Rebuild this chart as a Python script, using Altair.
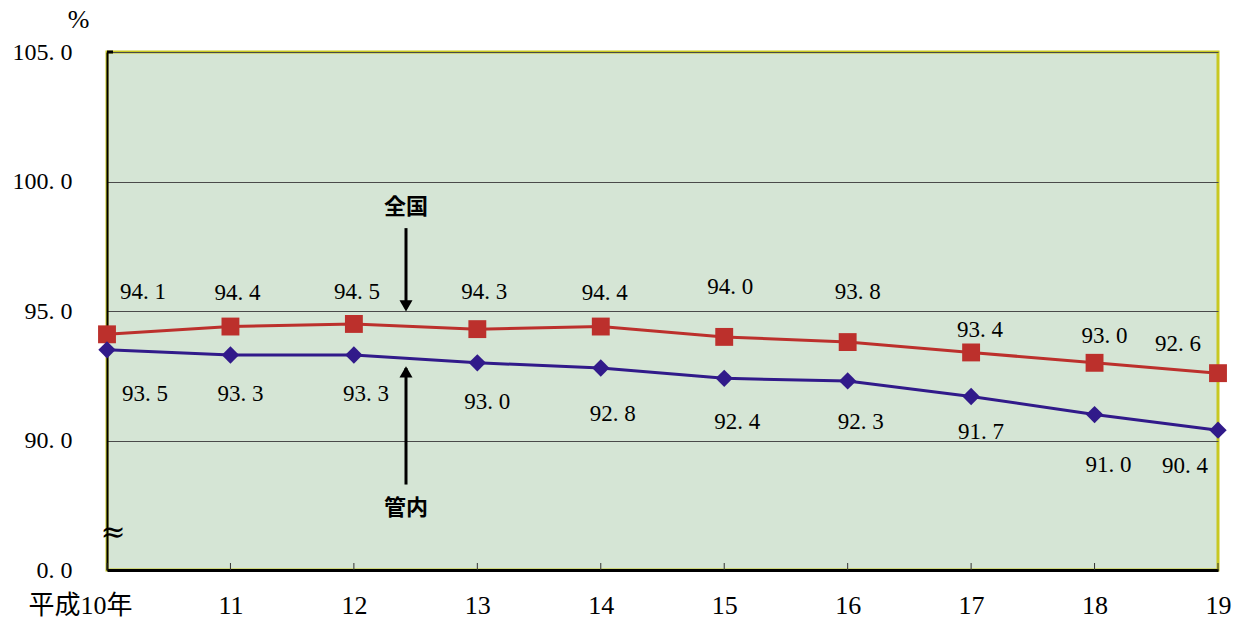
import altair as alt
import pandas as pd

years = ["平成10年", "11", "12", "13", "14", "15", "16", "17", "18", "19"]
zenkoku = [94.1, 94.4, 94.5, 94.3, 94.4, 94.0, 93.8, 93.4, 93.0, 92.6]
kannai = [93.5, 93.3, 93.3, 93.0, 92.8, 92.4, 92.3, 91.7, 91.0, 90.4]

# label placement (pixels, relative to each point)
zen_dx = [36, 7, 3, 7, 4, 6, 10, 9, 10, -40]
zen_dy = [-42, -34, -32, -37, -34, -50, -50, -22, -27, -29]
kan_dx = [38, 10, 12, 10, 12, 13, 13, 10, 14, -33]
kan_dy = [44, 39, 39, 39, 46, 44, 41, 36, 50, 36]

RED = "#BC302C"
BLUE = "#311A8A"
SERIF = "Liberation Serif, Noto Sans CJK JP"
SANS = "Noto Sans CJK JP"
PLOT_H = 518
Y_MIN, Y_MAX = 85, 105

def fmt(v):
    return f"{v:.1f}".replace(".", ". ")

rows = []
for i, y in enumerate(years):
    rows.append(dict(year=y, series="全国", value=zenkoku[i], label=fmt(zenkoku[i]), dx=zen_dx[i], dy=zen_dy[i]))
    rows.append(dict(year=y, series="管内", value=kannai[i], label=fmt(kannai[i]), dx=kan_dx[i], dy=kan_dy[i]))
df = pd.DataFrame(rows)

x_enc = alt.X("year:N", sort=years, scale=alt.Scale(type="point", padding=0),
              axis=alt.Axis(title=None, labelAngle=0, labelFont=SERIF, labelFontSize=26,
                            labelColor="black", labelPadding=22, ticks=False,
                            domainColor="black", domainWidth=3, grid=False,
                            labelOffset={"condition": {"test": "datum.value == '平成10年'", "value": -27}, "value": 0}))
y_scale = alt.Scale(domain=[Y_MIN, Y_MAX], nice=False, zero=False)
y_enc = alt.Y("value:Q", scale=y_scale,
              axis=alt.Axis(values=[85, 90, 95, 100, 105],
                            labelExpr="datum.value == 85 ? '0. 0' : replace(format(datum.value, '.1f'), '.', '. ')",
                            labelFont=SERIF, labelFontSize=24, labelColor="black", labelPadding=35,
                            ticks=False, domainColor="black", domainWidth=2,
                            grid=True, gridColor="#4a4a4a", gridWidth=1,
                            title="%", titleAngle=0, titleFont=SERIF, titleFontSize=26,
                            titleFontWeight="normal", titleX=-29, titleY=-33,
                            titleAlign="center", titleBaseline="middle"))

color = alt.Color("series:N", scale=alt.Scale(domain=["全国", "管内"], range=[RED, BLUE]), legend=None)

base = alt.Chart(df)

lines = base.mark_line(strokeWidth=3).encode(x=x_enc, y=y_enc, color=color, detail="series:N")
pts_z = base.transform_filter("datum.series == '全国'").mark_point(
    shape="square", filled=True, size=320, opacity=1, color=RED).encode(x=x_enc, y=y_enc)
pts_k = base.transform_filter("datum.series == '管内'").mark_point(
    shape="diamond", filled=True, size=300, opacity=1, color=BLUE).encode(x=x_enc, y=y_enc)

px_per_unit = PLOT_H / (Y_MAX - Y_MIN)
labels = base.transform_calculate(
    ly=f"datum.value - datum.dy / {px_per_unit}"
).mark_text(font=SERIF, fontSize=23, color="black", baseline="middle", align="center").encode(
    x=x_enc, y=alt.Y("ly:Q", scale=y_scale), text="label:N",
    xOffset=alt.XOffset("dx:Q", scale=None))

# x-axis inward ticks
ticks = alt.Chart(pd.DataFrame({"year": years})).mark_rule(color="#333", strokeWidth=1).encode(
    x=alt.X("year:N", sort=years), y=alt.value(518), y2=alt.value(511))

# annotations (arrows)
ann_x = 299
ann_text = pd.DataFrame({"t": ["全国", "管内"], "y": [99.0, 87.4]})
ann_txt = alt.Chart(ann_text).mark_text(font=SANS, fontSize=22, fontWeight="bold", color="black").encode(
    x=alt.value(ann_x), y=alt.Y("y:Q", scale=y_scale), text="t:N")
arrows = pd.DataFrame({"y": [98.2, 88.3], "y2": [95.1, 92.8]})
arrow_lines = alt.Chart(arrows).mark_rule(color="black", strokeWidth=3).encode(
    x=alt.value(ann_x), y=alt.Y("y:Q", scale=y_scale), y2="y2:Q")
head_down = alt.Chart(pd.DataFrame({"y": [95.2]})).mark_point(
    shape="triangle-down", filled=True, size=170, color="black", opacity=1).encode(
    x=alt.value(ann_x), y=alt.Y("y:Q", scale=y_scale))
head_up = alt.Chart(pd.DataFrame({"y": [92.65]})).mark_point(
    shape="triangle-up", filled=True, size=170, color="black", opacity=1).encode(
    x=alt.value(ann_x), y=alt.Y("y:Q", scale=y_scale))

brk = alt.Chart(pd.DataFrame({"t": ["≈"]})).mark_text(font="DejaVu Serif", fontSize=30, color="black").encode(
    x=alt.value(6), y=alt.value(481), text="t:N")
ytick105 = alt.Chart(pd.DataFrame({"y": [105]})).mark_rule(color="black", strokeWidth=3).encode(
    x=alt.value(0), x2=alt.value(6), y=alt.Y("y:Q", scale=y_scale))

chart = alt.layer(lines, pts_z, pts_k, labels, ticks, arrow_lines, head_down, head_up, ann_txt, brk, ytick105).properties(
    width=1111, height=PLOT_H,
    autosize=alt.AutoSizeParams(type="none"),
    padding={"left": 107, "top": 52, "right": 26, "bottom": 50},
    background="white",
).configure_view(
    fill="#D5E5D5", stroke="#C8C822", strokeWidth=3
)

chart.save("out.html", embed_options={"renderer": "svg", "actions": False})
